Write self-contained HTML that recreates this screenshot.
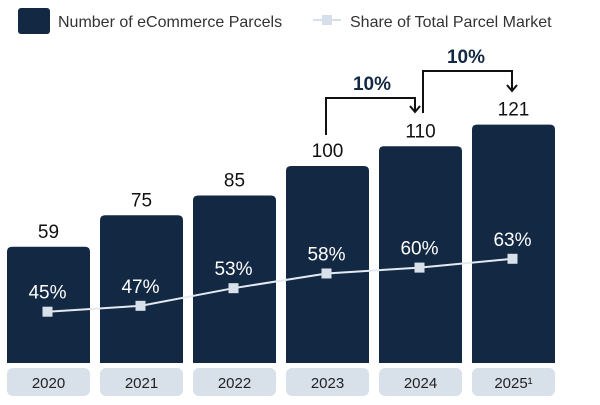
<!DOCTYPE html>
<html><head><meta charset="utf-8"><style>
body{margin:0;background:#fff;width:600px;height:400px;overflow:hidden;font-family:"Liberation Sans","DejaVu Sans",sans-serif}
</style></head><body>
<svg id="chart" width="600" height="400" xmlns="http://www.w3.org/2000/svg">
<g>
 <rect x="18" y="8" width="32" height="26" rx="3" fill="#132843"/>
 <text x="58" y="27" font-size="16" fill="#333">Number of eCommerce Parcels</text>
 <line x1="313" y1="20" x2="341" y2="20" stroke="#d6dfe9" stroke-width="2"/>
 <rect x="322" y="15" width="10" height="10" fill="#d6dfe9"/>
 <text x="350" y="27" font-size="16" fill="#333">Share of Total Parcel Market</text>
</g>
<g id="bars"></g><g id="line"></g>
<g fill="none" stroke="#111" stroke-width="2">
 <polyline points="326,135 326,98 415,98 415,111"/>
 <polyline points="423,113 423,71 512,71 512,90"/>
 <path d="M410,106 L415,112 L420,106 M507,85 L512,91 L517,85"/>
</g>
<text x="372" y="90" font-size="19" font-weight="bold" text-anchor="middle" fill="#132843">10%</text>
<text x="466" y="63" font-size="19" font-weight="bold" text-anchor="middle" fill="#132843">10%</text>
</svg>
<script>
const categories=["2020","2021","2022","2023","2024","2025¹"];
const parcels=[59,75,85,100,110,121];
const share=[45,47,53,58,60,63];
const NS="http://www.w3.org/2000/svg";
function xLeft(i){return 7+i*93;}
function yBar(v){return 363-v*1.97;}
function yShare(p){return 444-p*2.94;}
const bars=document.getElementById('bars'),line=document.getElementById('line');
function mk(tag,attrs,parent){const e=document.createElementNS(NS,tag);for(const k in attrs)e.setAttribute(k,attrs[k]);parent.appendChild(e);return e;}
const pts=[];
categories.forEach((c,i)=>{
 const x=xLeft(i),w=83,y=yBar(parcels[i]);
 const b=mk('path',{d:`M${x},363 L${x},${y+5} Q${x},${y} ${x+5},${y} L${x+w-5},${y} Q${x+w},${y} ${x+w},${y+5} L${x+w},363 Z`,fill:'#132843'},bars);
 
 
 const t=mk('text',{x:x+w/2,y:y-9,'font-size':19,'text-anchor':'middle',fill:'#111'},bars);t.textContent=parcels[i];
 
 
 const lb=mk('rect',{x:x,y:368,width:w,height:28,rx:6,fill:'#d8e0ea'},bars);
 
 
 const lt=mk('text',{x:x+w/2,y:388,'font-size':15,'text-anchor':'middle',fill:'#222'},bars);lt.textContent=c;
 
 
 pts.push([x+w/2-1,yShare(share[i])]);
});
const pl=mk('polyline',{points:pts.map(p=>p.join(',')).join(' '),fill:'none',stroke:'#e4eaf1','stroke-width':2},line);


pts.forEach((p,i)=>{
 const m=mk('rect',{x:p[0]-5,y:p[1]-5,width:10,height:10,fill:'#d8e0ea'},line);
 
 
 const t=mk('text',{x:p[0],y:p[1]-13,'font-size':19,'text-anchor':'middle',fill:'#fff'},line);t.textContent=share[i]+'%';
 
 
});
</script>
</body></html>
